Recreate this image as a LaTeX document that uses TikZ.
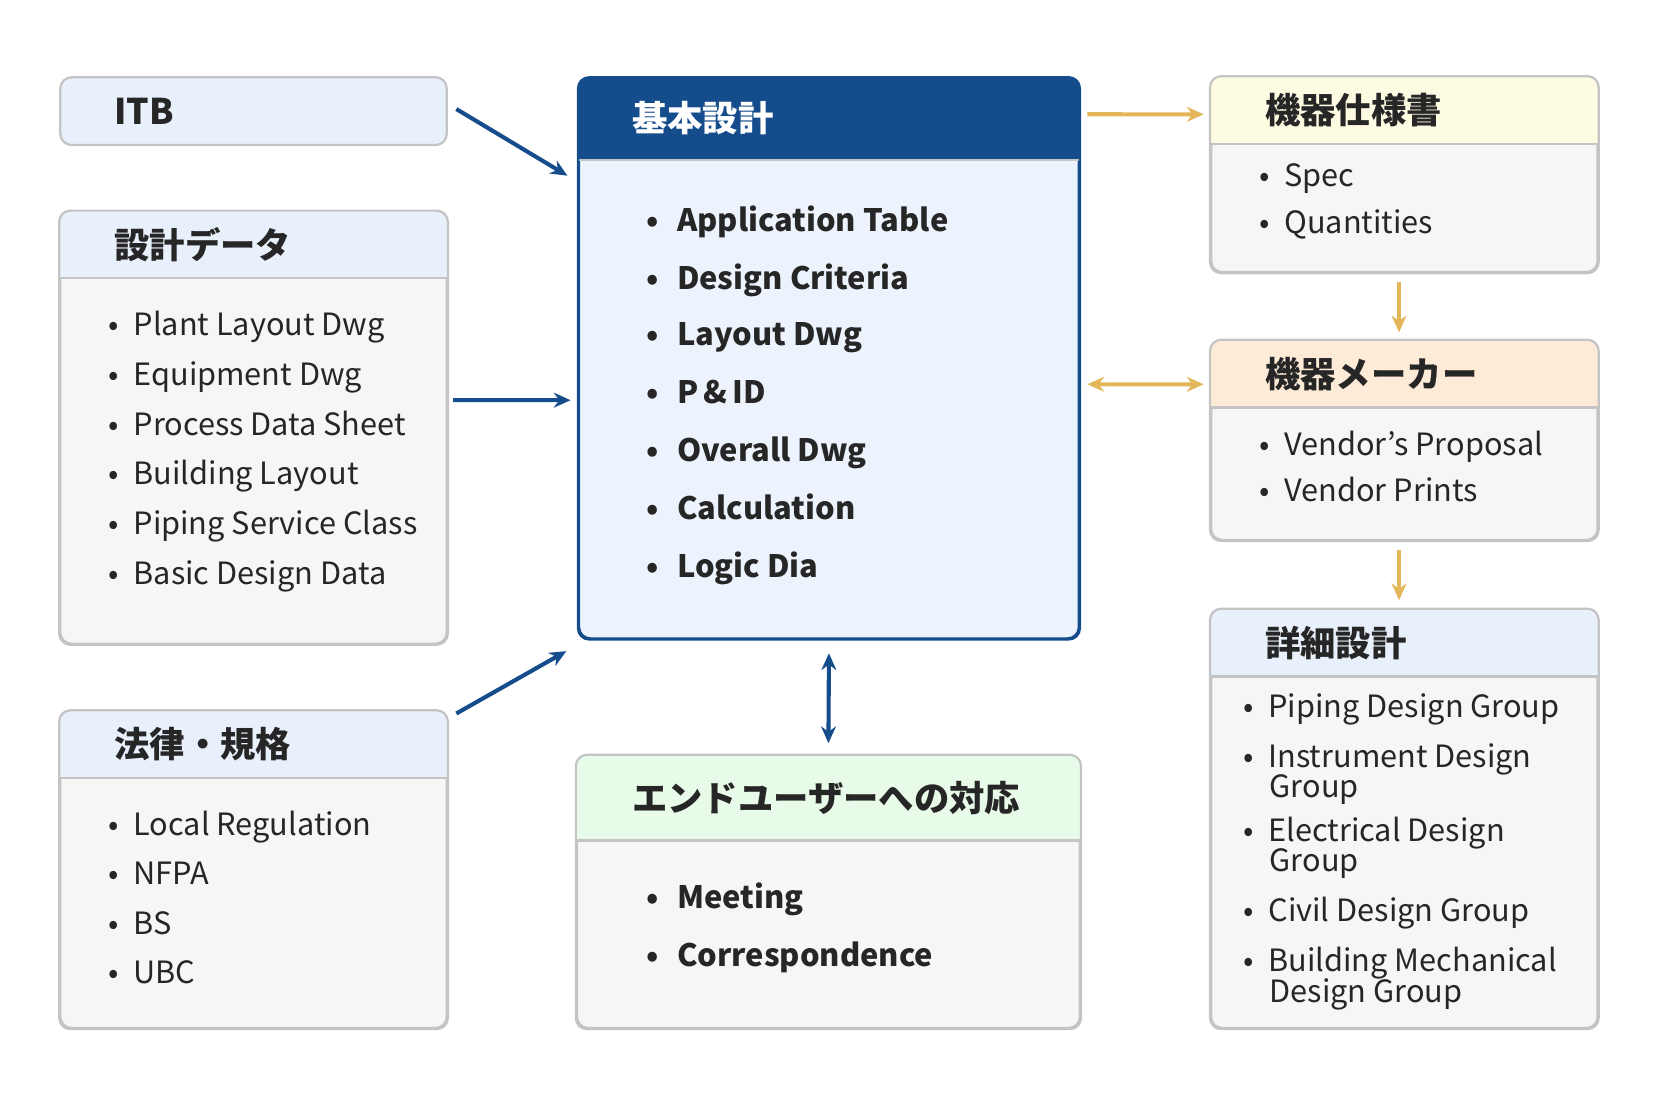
\documentclass[tikz,border=0pt]{standalone}
\usepackage{fontspec}
\setmainfont{Noto Sans CJK JP}
\usetikzlibrary{calc,arrows.meta}
\definecolor{navy}{HTML}{144C8C}
\definecolor{gold}{HTML}{E3B65A}
\definecolor{hdrblue}{HTML}{E8F0FB}
\definecolor{hdryellow}{HTML}{FEFBE3}
\definecolor{hdrorange}{HTML}{FDEBD8}
\definecolor{hdrgreen}{HTML}{E8FBE8}
\definecolor{bodygray}{HTML}{F6F6F6}
\definecolor{edgegray}{HTML}{C4C4C4}
\tikzset{
  box/.style={draw=edgegray, fill=bodygray, line width=1.2pt, rounded corners=6pt, inner sep=0pt},
  title/.style={anchor=west, font=\fontsize{19}{21}\selectfont\bfseries, text=black!85},
  item/.style={anchor=west, font=\fontsize{16.5}{17}\selectfont, text=black!85, inner sep=0pt},
  bitem/.style={item, font=\fontsize{16.6}{17}\selectfont\bfseries},
  navyarrow/.style={draw=navy, line width=2.2pt, -{Stealth[length=9pt,width=8pt]}},
  goldarrow/.style={draw=gold, line width=2.2pt, -{Stealth[length=9pt,width=8pt]}}
}
% header band of a box
\newcommand{\hdr}[3]{%
  \begin{scope}
    \clip[rounded corners=6pt] (#1.north west) rectangle (#1.south east);
    \fill[#3] (#1.north west) rectangle ($(#1.north east)+(0,-#2)$);
  \end{scope}
  \draw[edgegray, line width=1.2pt] ($(#1.north west)+(0,-#2)$) -- ($(#1.north east)+(0,-#2)$);
}
\begin{document}
\begin{tikzpicture}
\useasboundingbox (0,0) rectangle (31.36,-20.9);

% left column
\node[box, fill=hdrblue, minimum width=7.3cm, minimum height=1.28cm] (itb) at (4.79,-2.10) {};
\node[title] at ($(itb.west)+(0.92,0)$) {ITB};

\node[box, minimum width=7.3cm, minimum height=8.16cm] (data) at (4.79,-8.08) {};
\hdr{data}{1.28}{hdrblue}
\draw[box, fill=none] (data.north west) rectangle (data.south east);
\node[title] at ($(data.north west)+(0.92,-0.64)$) {設計データ};
\foreach \t [count=\i] in {Plant Layout Dwg, Equipment Dwg, Process Data Sheet, Building Layout, Piping Service Class, Basic Design Data}
  \node[item] at ($(data.north west)+(0.92,-2.22-0.94*\i+0.94)$) {•\hspace{8pt}\strut\t};

\node[box, minimum width=7.3cm, minimum height=5.98cm] (law) at (4.79,-16.43) {};
\hdr{law}{1.28}{hdrblue}
\draw[box, fill=none] (law.north west) rectangle (law.south east);
\node[title] at ($(law.north west)+(0.92,-0.64)$) {法律・規格};
\foreach \t [count=\i] in {Local Regulation, NFPA, BS, UBC}
  \node[item] at ($(law.north west)+(0.92,-2.22-0.94*\i+0.94)$) {•\hspace{8pt}\strut\t};

% centre column
\node[box, draw=navy, fill=hdrblue!80!white, minimum width=9.44cm, minimum height=10.58cm] (basic) at (15.66,-6.77) {};
\hdr{basic}{1.56}{navy}
\draw[box, draw=navy, fill=none] (basic.north west) rectangle (basic.south east);
\node[title, text=white] at ($(basic.north west)+(0.9,-0.78)$) {基本設計};
\foreach \t [count=\i] in {Application Table, Design Criteria, Layout Dwg, P\,\&\,ID, Overall Dwg, Calculation, Logic Dia}
  \node[bitem] at ($(basic.north west)+(1.28,-2.76-1.09*\i+1.09)$) {•\hspace{10pt}\strut\t};

\node[box, minimum width=9.5cm, minimum height=5.14cm] (user) at (15.65,-16.85) {};
\hdr{user}{1.62}{hdrgreen}
\draw[box, fill=none] (user.north west) rectangle (user.south east);
\node[title] at ($(user.north west)+(0.94,-0.81)$) {エンドユーザーへの対応};
\foreach \t [count=\i] in {Meeting, Correspondence}
  \node[bitem] at ($(user.north west)+(1.32,-2.76-1.1*\i+1.1)$) {•\hspace{10pt}\strut\t};

% right column
\node[box, minimum width=7.3cm, minimum height=3.68cm] (spec) at (26.53,-3.30) {};
\hdr{spec}{1.28}{hdryellow}
\draw[box, fill=none] (spec.north west) rectangle (spec.south east);
\node[title] at ($(spec.north west)+(0.92,-0.64)$) {機器仕様書};
\foreach \t [count=\i] in {Spec, Quantities}
  \node[item] at ($(spec.north west)+(0.92,-1.96-0.88*\i+0.88)$) {•\hspace{8pt}\strut\t};

\node[box, minimum width=7.3cm, minimum height=3.76cm] (maker) at (26.53,-8.32) {};
\hdr{maker}{1.28}{hdrorange}
\draw[box, fill=none] (maker.north west) rectangle (maker.south east);
\node[title] at ($(maker.north west)+(0.92,-0.64)$) {機器メーカー};
\foreach \t [count=\i] in {Vendor's Proposal, Vendor Prints}
  \node[item] at ($(maker.north west)+(0.92,-2.04-0.88*\i+0.88)$) {•\hspace{8pt}\strut\t};

\node[box, minimum width=7.3cm, minimum height=7.90cm] (detail) at (26.53,-15.47) {};
\hdr{detail}{1.28}{hdrblue}
\draw[box, fill=none] (detail.north west) rectangle (detail.south east);
\node[title] at ($(detail.north west)+(0.92,-0.64)$) {詳細設計};
\node[item] at ($(detail.north west)+(0.62,-1.92)$) {•\hspace{8pt}\strut Piping Design Group};
\node[item] at ($(detail.north west)+(0.62,-2.86)$) {•\hspace{8pt}\strut Instrument Design};
\node[item] at ($(detail.north west)+(1.12,-3.44)$) {\strut Group};
\node[item] at ($(detail.north west)+(0.62,-4.26)$) {•\hspace{8pt}\strut Electrical Design};
\node[item] at ($(detail.north west)+(1.12,-4.84)$) {\strut Group};
\node[item] at ($(detail.north west)+(0.62,-5.76)$) {•\hspace{8pt}\strut Civil Design Group};
\node[item] at ($(detail.north west)+(0.62,-6.72)$) {•\hspace{8pt}\strut Building Mechanical};
\node[item] at ($(detail.north west)+(1.12,-7.30)$) {\strut Design Group};

% connectors
\draw[navyarrow] ($(itb.east)+(0.16,0.04)$) -- ($(basic.north west)+(-0.2,-1.86)$);
\draw[navyarrow] ($(data.east)+(0.1,0.52)$) -- ($(basic.west)+(-0.14,-0.79)$);
\draw[navyarrow] ($(law.north east)+(0.16,-0.06)$) -- ($(basic.south west)+(-0.22,-0.22)$);
\draw[navyarrow, {Stealth[length=9pt,width=8pt]}-{Stealth[length=9pt,width=8pt]}] ($(basic.south)+(0,-0.26)$) -- ($(user.north)+(0,0.22)$);
\draw[goldarrow] ($(basic.north east)+(0.14,-0.7)$) -- ($(spec.west)+(-0.12,1.14)$);
\draw[goldarrow, {Stealth[length=9pt,width=8pt]}-{Stealth[length=9pt,width=8pt]}] ($(basic.east)+(0.14,-0.49)$) -- ($(maker.west)+(-0.12,1.06)$);
\draw[goldarrow] ($(spec.south)+(-0.1,-0.16)$) -- ($(maker.north)+(-0.1,0.14)$);
\draw[goldarrow] ($(maker.south)+(-0.1,-0.16)$) -- ($(detail.north)+(-0.1,0.16)$);
\end{tikzpicture}
\end{document}
